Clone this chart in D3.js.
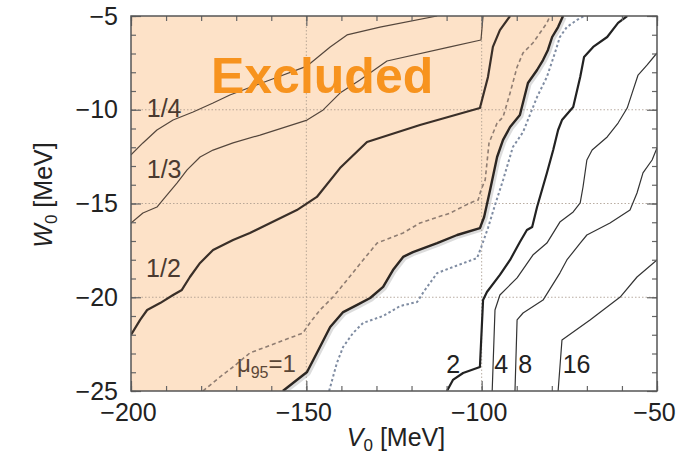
<!DOCTYPE html>
<html><head><meta charset="utf-8">
<script src="https://cdn.jsdelivr.net/npm/d3@7"></script>
<style>
body{margin:0;background:#fff}
svg{display:block}
text{font-family:"Liberation Sans",Arial,Helvetica,sans-serif}
</style>
</head><body>
<svg id="chart" width="694" height="460"></svg>
<script>
// ---------- data (V0, W0 in MeV) ----------
const xDomain = [-200, -50];
const yDomain = [-25, -5];
const xTickLabels = [-200, -150, -100, -50];
const yTickLabels = [-5, -10, -15, -20, -25];
const xGridValues = [-150, -100];
const yGridValues = [-10, -15, -20];

const contourQuarter = [[-200,-12.41],[-196.6,-11.77],[-192.6,-11.08],[-188.0,-10.55],[-182.3,-10.12],[-176.6,-9.64],[-171.8,-9.21],[-160.4,-8.41],[-149.8,-7.67],[-143.2,-6.65],[-138.4,-6.01],[-129.0,-5.59],[-112.7,-5]];
const contourThird = [[-200,-16.04],[-196.6,-15.51],[-192.6,-15.19],[-190.9,-14.81],[-186.9,-13.91],[-184.0,-13.21],[-180.3,-12.52],[-176.6,-12.15],[-170.9,-11.77],[-163.2,-11.35],[-149.8,-10.55],[-145.2,-10.01],[-140.4,-9.11],[-134.7,-8.41],[-127.0,-7.40],[-109.0,-6.65],[-100.2,-6.28],[-99.6,-5]];
const contourHalf = [[-200,-22.01],[-197.4,-21.21],[-195.4,-20.68],[-191.7,-20.31],[-188.0,-19.88],[-185.5,-19.61],[-183.2,-18.92],[-180.3,-18.17],[-176.6,-17.48],[-170.9,-16.95],[-166.1,-16.57],[-152.7,-15.35],[-147.0,-14.65],[-140.4,-13.11],[-132.7,-11.72],[-117.6,-10.81],[-100.5,-9.91],[-98.2,-8.25],[-96.8,-6.65],[-94.8,-5.75],[-91.9,-5]];
const dashedBrown = [[-179.5,-25],[-174.6,-24.25],[-170.9,-23.72],[-166.1,-22.97],[-162.4,-22.71],[-151.0,-21.91],[-149.0,-21.37],[-146.1,-20.68],[-142.4,-19.99],[-138.4,-19.08],[-133.8,-18.01],[-129.8,-17.11],[-126.1,-16.84],[-122.4,-16.57],[-117.6,-16.04],[-109.0,-15.51],[-103.3,-14.97],[-101.0,-14.81],[-100.2,-14.28],[-99.0,-13.75],[-97.9,-11.77],[-95.6,-10.71],[-93.9,-10.39],[-91.9,-9.11],[-89.9,-7.72],[-88.2,-6.97],[-85.4,-6.44],[-83.4,-5.91],[-81.4,-5.37],[-80.5,-5]];
const limitMu1 = [[-156.7,-25],[-149.8,-23.99],[-147.0,-22.97],[-143.2,-21.59],[-139.5,-20.79],[-135.5,-20.41],[-131.8,-20.04],[-128.1,-19.45],[-125.3,-18.55],[-122.4,-17.85],[-119.6,-17.59],[-112.7,-17.11],[-107.0,-16.68],[-100.5,-16.31],[-99.3,-15.72],[-97.6,-14.28],[-95.6,-12.52],[-93.9,-11.61],[-91.9,-10.92],[-89.1,-10.28],[-86.8,-8.57],[-84.2,-7.88],[-82.5,-7.35],[-81.1,-6.81],[-79.9,-6.12],[-78.2,-5.59],[-76.8,-5]];
const dottedBlue = [[-143.5,-25],[-141.3,-23.51],[-139.5,-22.65],[-136.7,-21.91],[-133.8,-21.37],[-128.1,-21.0],[-123.3,-20.47],[-118.4,-20.25],[-116.4,-19.67],[-112.7,-18.71],[-108.2,-18.39],[-101.3,-17.91],[-99.9,-17.21],[-98.2,-16.31],[-96.2,-15.08],[-93.9,-13.75],[-91.1,-11.99],[-88.2,-11.19],[-84.2,-9.32],[-81.4,-8.25],[-79.1,-6.97],[-77.7,-6.12],[-75.7,-5.59],[-72.8,-5.21],[-70.8,-5]];
const contour2 = [[-109.9,-25],[-108.2,-24.41],[-105.3,-24.04],[-100.5,-23.72],[-99.6,-20.15],[-98.5,-19.72],[-94.8,-18.81],[-91.9,-18.01],[-89.1,-17.05],[-87.1,-16.41],[-85.6,-16.25],[-84.2,-15.19],[-81.4,-13.37],[-79.6,-12.15],[-78.2,-11.08],[-77.1,-10.55],[-73.9,-9.85],[-71.9,-8.25],[-70.8,-7.19],[-68.2,-6.65],[-64.2,-6.12],[-61.1,-5.37],[-58.5,-5]];
const contour4 = [[-97.0,-25],[-96.2,-20.68],[-94.8,-19.88],[-89.9,-18.97],[-85.4,-17.75],[-81.4,-17.11],[-77.7,-15.99],[-73.9,-15.45],[-71.9,-14.97],[-71.1,-14.12],[-70.0,-12.68],[-68.5,-12.15],[-64.2,-11.45],[-61.1,-10.71],[-58.5,-9.91],[-57.1,-9.11],[-55.4,-8.15],[-52.8,-7.61],[-50,-6.97]];
const contour8 = [[-90.5,-25],[-89.9,-21.21],[-88.2,-20.84],[-82.5,-20.15],[-77.7,-18.71],[-75.7,-18.01],[-71.9,-17.11],[-70.0,-16.68],[-63.4,-16.04],[-57.7,-15.35],[-55.7,-14.44],[-54.0,-13.37],[-51.4,-12.68],[-50,-12.04]];
const contour16 = [[-78.2,-25],[-77.1,-22.28],[-69.1,-21.21],[-60.5,-19.99],[-55.7,-18.92],[-50,-18.01]];

const curveLabels = [
  {text:"1/4", v:-195.5, w:-10.39},
  {text:"1/3", v:-195.5, w:-13.66},
  {text:"1/2", v:-195.7, w:-18.9},
  {text:"2",   v:-110.1, w:-24.06},
  {text:"4",   v:-96.4,  w:-24.06},
  {text:"8",   v:-89.6,  w:-24.06},
  {text:"16",  v:-76.9,  w:-24.06}
];
const muLabel = {v:-169.8, w:-23.97};
const excludedLabel = {text:"Excluded", v:-177.2, w:-9.12};

// ---------- layout ----------
const L = 131, R = 657, T = 16, B = 391;
const svg = d3.select("#chart");
svg.append("rect").attr("width",694).attr("height",460).attr("fill","#fff");

const x = d3.scaleLinear().domain(xDomain).range([L, R]);
const y = d3.scaleLinear().domain(yDomain).range([B, T]);
const line = d3.line().x(d => x(d[0])).y(d => y(d[1]));

svg.append("clipPath").attr("id","plotclip")
  .append("rect").attr("x",L).attr("y",T).attr("width",R-L).attr("height",B-T);

const plot = svg.append("g").attr("clip-path","url(#plotclip)");

// excluded fill
const fillPoly = [[xDomain[0], yDomain[0]], ...limitMu1, [xDomain[0], yDomain[1]]];
plot.append("path").attr("d", line(fillPoly) + "Z").attr("fill","#fde2c8").attr("stroke","none");

// grid
plot.selectAll(".gx").data(xGridValues).enter().append("line")
  .attr("x1", d=>x(d)).attr("x2", d=>x(d)).attr("y1",T).attr("y2",B)
  .attr("stroke","#a8998c").attr("stroke-width",1).attr("stroke-dasharray","1.5,2").attr("opacity",0.8);
plot.selectAll(".gy").data(yGridValues).enter().append("line")
  .attr("y1", d=>y(d)).attr("y2", d=>y(d)).attr("x1",L).attr("x2",R)
  .attr("stroke","#a8998c").attr("stroke-width",1).attr("stroke-dasharray","1.5,2").attr("opacity",0.8);

// curves
function drawCurve(data, color, width, dash){
  const p = plot.append("path").attr("d", line(data)).attr("fill","none")
    .attr("stroke", color).attr("stroke-width", width).attr("stroke-linejoin","round");
  if (dash) p.attr("stroke-dasharray", dash);
  return p;
}
// soft shadow of the limit line
drawCurve(limitMu1, "#9a9a9a", 4, null).attr("opacity",0.35).attr("transform","translate(1.5,1.5)");

drawCurve(contourQuarter, "#54463c", 1.2);
drawCurve(contourThird, "#54463c", 1.2);
drawCurve(contourHalf, "#3a2f28", 2.2);
drawCurve(dashedBrown, "#8f7d72", 1.6, "4,3");
drawCurve(dottedBlue, "#7f8ca2", 2, "2.5,2.5");
drawCurve(limitMu1, "#2c2622", 2.4);
drawCurve(contour2, "#222", 2.2);
drawCurve(contour4, "#333", 1.2);
drawCurve(contour8, "#333", 1.2);
drawCurve(contour16, "#333", 1.2);

// axes (ticks inward on all sides)
const axColor = "#666";
function styleAxis(g){
  g.select(".domain").remove();
  g.selectAll(".tick line").attr("stroke", axColor).attr("stroke-width",1.2);
  g.selectAll(".tick text").attr("fill","#222").attr("font-size",25);
}
const fmt = d => d < 0 ? "\u2212" + Math.abs(d) : String(d);
const xMinor = d3.range(xDomain[0], xDomain[1] + 1, 10);
const yMinor = d3.range(yDomain[0], yDomain[1] + 1, 1);

svg.append("g").attr("transform",`translate(0,${B})`)
  .call(d3.axisBottom(x).tickValues(xMinor).tickSize(-5).tickFormat("")).call(styleAxis);
svg.append("g").attr("transform",`translate(0,${T})`)
  .call(d3.axisTop(x).tickValues(xMinor).tickSize(-5).tickFormat("")).call(styleAxis);
svg.append("g").attr("transform",`translate(${L},0)`)
  .call(d3.axisLeft(y).tickValues(yMinor).tickSize(-5).tickFormat("")).call(styleAxis);
svg.append("g").attr("transform",`translate(${R},0)`)
  .call(d3.axisRight(y).tickValues(yMinor).tickSize(-5).tickFormat("")).call(styleAxis);

svg.append("g").attr("transform",`translate(-3,${B})`)
  .call(d3.axisBottom(x).tickValues(xTickLabels).tickSize(0).tickPadding(12).tickFormat(fmt)).call(styleAxis);
svg.append("g").attr("transform",`translate(0,${B})`)
  .call(d3.axisBottom(x).tickValues(xTickLabels).tickSize(-10).tickFormat("")).call(styleAxis);
svg.append("g").attr("transform",`translate(0,${T})`)
  .call(d3.axisTop(x).tickValues(xTickLabels).tickSize(-10).tickFormat("")).call(styleAxis);
svg.append("g").attr("transform",`translate(${L},0)`)
  .call(d3.axisLeft(y).tickValues(yTickLabels).tickSize(-10).tickPadding(13).tickFormat(fmt)).call(styleAxis);
svg.append("g").attr("transform",`translate(${R},0)`)
  .call(d3.axisRight(y).tickValues(yTickLabels).tickSize(-10).tickFormat("")).call(styleAxis);

// frame
svg.append("rect").attr("x",L).attr("y",T).attr("width",R-L).attr("height",B-T)
  .attr("fill","none").attr("stroke","#555").attr("stroke-width",1.5);

// curve labels
svg.selectAll(".clab").data(curveLabels).enter().append("text")
  .attr("x", d=>x(d.v)).attr("y", d=>y(d.w))
  .attr("font-size",25).attr("fill", d => d.v < -150 ? "#4a3a30" : "#222")
  .text(d=>d.text);

const mu = svg.append("text").attr("x", x(muLabel.v)).attr("y", y(muLabel.w))
  .attr("font-size",24).attr("fill","#5a4636");
mu.append("tspan").text("\u03bc");
mu.append("tspan").attr("font-size",16).attr("dy",6).text("95");
mu.append("tspan").attr("dy",-6).text("=1");

svg.append("text").attr("x", x(excludedLabel.v)).attr("y", y(excludedLabel.w))
  .attr("font-size",50).attr("font-weight","bold").attr("fill","#f7931e")
  .text(excludedLabel.text);

// axis titles
const xt = svg.append("text").attr("x",396).attr("y",446).attr("text-anchor","middle")
  .attr("font-size",25).attr("fill","#222");
xt.append("tspan").attr("font-style","italic").text("V");
xt.append("tspan").attr("font-size",17).attr("dy",5).text("0");
xt.append("tspan").attr("dy",-5).text(" [MeV]");

const yt = svg.append("text").attr("transform","translate(52,195) rotate(-90)").attr("text-anchor","middle")
  .attr("font-size",25).attr("fill","#222");
yt.append("tspan").attr("font-style","italic").text("W");
yt.append("tspan").attr("font-size",17).attr("dy",5).text("0");
yt.append("tspan").attr("dy",-5).text(" [MeV]");
</script>
</body></html>
